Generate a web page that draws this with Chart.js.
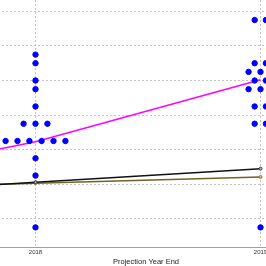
<!DOCTYPE html>
<html>
<head>
<meta charset="utf-8">
<script src="https://cdn.jsdelivr.net/npm/chart.js@4"></script>
<style>
    html, body { margin: 0; padding: 0; overflow: hidden; background: #fff; width: 266px; height: 266px; }
    .wrap { position: absolute; left: -54px; top: 0; width: 400px; height: 266px; }
</style>
</head>
<body>
<div class="wrap"><canvas id="myChart"></canvas></div>
<script>
// trend lines (one value per year)
const years = [2017, 2018, 2019];
const trendMagenta = [1.92, 3.23, 5.02];
const trendBlack = [1.66, 2.06, 2.45];
const trendOlive = [1.84, 2.03, 2.21];

// individual projections (x = year with small spread, y = value)
const dotX = [
    2018, 2018, 2018, 2018, 2018,
    2017.947, 2018, 2018.053,
    2017.867, 2017.92, 2017.973, 2018.027, 2018.08, 2018.133,
    2018, 2018, 2018,
    2018.974, 2019.024,
    2018.974, 2019.024,
    2018.947, 2019,
    2018.974, 2019.024,
    2018.947, 2019,
    2018.974, 2019.024,
    2018.974, 2019.024,
    2019
];
const dotY = [
    5.75, 5.5, 5.0, 4.75, 4.25,
    3.75, 3.75, 3.75,
    3.25, 3.25, 3.25, 3.25, 3.25, 3.25,
    2.75, 2.25, 0.75,
    6.75, 6.75,
    5.5, 5.5,
    5.25, 5.25,
    5.0, 5.0,
    4.75, 4.75,
    4.25, 4.25,
    3.75, 3.75,
    0.75
];

const xTitle = "Projection Year End";

function toPoints(xs, ys) {
    return xs.map((x, i) => ({x: x, y: ys[i]}));
}

const gridStyle = {
    color: "#c4c4c4",
    lineWidth: 1,
    drawTicks: false
};

new Chart("myChart", {
    type: "scatter",
    data: {
        datasets: [{
            label: "projections",
            data: toPoints(dotX, dotY),
            backgroundColor: "#0000ff",
            borderColor: "#0000ff",
            pointRadius: 2.7,
            order: 0
        }, {
            label: "trend",
            data: toPoints(years, trendMagenta),
            showLine: true,
            borderColor: "#ff00ff",
            borderWidth: 1.5,
            pointRadius: 0,
            order: 1
        }, {
            label: "black",
            data: toPoints(years, trendBlack),
            showLine: true,
            borderColor: "#111111",
            backgroundColor: "#bbbbbb",
            borderWidth: 1.5,
            pointRadius: 1.5,
            pointBorderWidth: 0.8,
            order: 2
        }, {
            label: "olive",
            data: toPoints(years, trendOlive),
            showLine: true,
            borderColor: "#6e6426",
            backgroundColor: "#c9bf7a",
            borderWidth: 1.5,
            pointRadius: 1.5,
            pointBorderWidth: 0.8,
            order: 3
        }]
    },
    options: {
        responsive: true,
        maintainAspectRatio: false,
        animation: false,
        layout: {padding: 0, autoPadding: false},
        plugins: {
            legend: {display: false},
            tooltip: {enabled: false}
        },
        scales: {
            x: {
                type: "linear",
                min: 2017.6022,
                max: 2019.38,
                grid: Object.assign({}, gridStyle),
                border: {display: true, color: "#a0a0a0", dash: [2, 2]},
                ticks: {
                    stepSize: 1,
                    includeBounds: false,
                    padding: 1,
                    maxRotation: 0,
                    color: "#333",
                    font: {family: "Liberation Sans", size: 6, lineHeight: 1.2},
                    callback: (v) => String(v)
                },
                title: {
                    display: true,
                    text: xTitle,
                    color: "#222",
                    padding: {top: 0, bottom: 0},
                    font: {family: "Liberation Sans", size: 7.5, lineHeight: 1.2}
                }
            },
            y: {
                type: "linear",
                min: 0.16,
                max: 7.33,
                grid: Object.assign({}, gridStyle),
                border: {display: false, dash: [2, 2]},
                ticks: {display: false, stepSize: 1, includeBounds: false}
            }
        }
    }
});
</script>
</body>
</html>
